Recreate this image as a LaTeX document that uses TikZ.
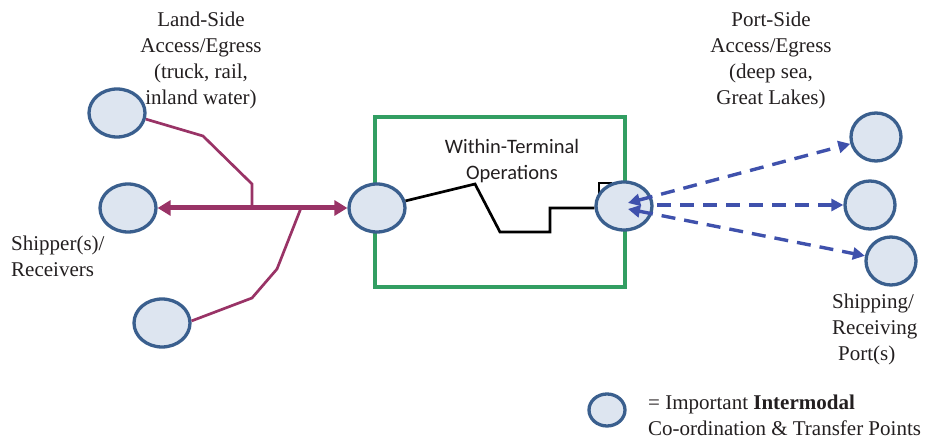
\documentclass[tikz,border=0pt]{standalone}
\usepackage{fontspec}
\setmainfont{Liberation Serif}
\newfontfamily\carlito{Carlito}
\usetikzlibrary{shapes.geometric,arrows.meta}

\definecolor{maroon}{RGB}{153,51,102}
\definecolor{boxgreen}{RGB}{50,158,98}
\definecolor{ptedge}{RGB}{58,95,142}
\definecolor{ptfill}{RGB}{221,229,240}
\definecolor{seablue}{RGB}{63,81,172}
\definecolor{txt}{RGB}{35,31,32}

\tikzset{
  point/.style={ellipse, draw=ptedge, fill=ptfill, line width=3.3pt,
    inner sep=0pt, minimum width=56pt, minimum height=48pt},
  lbl/.style={text=txt, inner sep=0pt, font=\fontsize{21}{26}\selectfont},
  landlink/.style={draw=maroon, line width=2.7pt},
  trunk/.style={draw=maroon, line width=5pt,
    {Triangle[length=13pt,width=15pt]}-{Triangle[length=13pt,width=15pt]}},
  yardpath/.style={draw=black, line width=2.7pt},
  sealink/.style={draw=seablue, line width=3.4pt, dash pattern=on 14pt off 9pt},
  seatip/.tip={Triangle[length=12pt,width=12pt]},
}

\begin{document}
\begin{tikzpicture}[x=1pt,y=-1pt]
\useasboundingbox (0,0) rectangle (930,438);

% terminal boundary
\node[draw=boxgreen, line width=3.4pt, minimum width=250pt, minimum height=170pt,
  inner sep=0pt] (term) at (500,202) {};
\node[text=txt, inner sep=0pt, align=center,
  font=\carlito\fontsize{20.5}{26}\selectfont] (termlbl) at (512,161)
  {Within-Terminal\\Operations};

% movement inside the terminal
\coordinate (y1) at (475,184);
\coordinate (y2) at (500,232);
\coordinate (y3) at (550,232);
\coordinate (y4) at (550,208);
\coordinate (h1) at (599,197);
\coordinate (h2) at (599,183);
\coordinate (h3) at (612,183);
\draw[yardpath] (h1) -- (h2) -- (h3);

% transfer points
\node[point] (lt) at (117,113) {};
\node[point] (lm) at (128,208) {};
\node[point] (lb) at (162,323) {};
\node[point] (tl) at (377,208) {};
\node[point] (tr) at (624,206) {};
\node[point, minimum width=50pt, minimum height=48pt] (rt) at (876,137) {};
\node[point, minimum width=50pt, minimum height=48pt] (rm) at (870,205) {};
\node[point, minimum width=50pt, minimum height=48pt] (rb) at (891,261) {};

\draw[yardpath] (tl.14) -- (y1) -- (y2) -- (y3) -- (y4) -- (tr.west |- y4);

% land-side links
\coordinate (a1) at (203,136);
\coordinate (a2) at (252,184);
\coordinate (a3) at (252,208);
\coordinate (b1) at (252,298);
\coordinate (b2) at (277,269);
\coordinate (b3) at (301,208);
\draw[landlink] (lt.-12) -- (a1) -- (a2) -- (a3);
\draw[landlink] (lb.4) -- (b1) -- (b2) -- (b3);
\draw[trunk] (lm) -- (tl);

% port-side links
\coordinate (s1) at (628,203);
\coordinate (s2) at (657,205);
\coordinate (s3) at (628,209);
\draw[sealink, seatip-seatip] (s1) -- (rt);
\draw[sealink, -seatip] (s2) -- (rm.west);
\draw[sealink, seatip-seatip] (s3) -- (rb);

% labels
\node[lbl, align=center] (landlbl) at (201,60)
  {Land-Side\\Access/Egress\\(truck, rail,\\inland water)};
\node[lbl, align=center] (portlbl) at (771,60)
  {Port-Side\\Access/Egress\\(deep sea,\\Great Lakes)};
\node[lbl, align=left, anchor=west] (shiplbl) at (11,256)
  {Shipper(s)/\\Receivers};
\node[lbl, align=left, anchor=west] (portslbl) at (832,329)
  {Shipping/\\Receiving\\\hspace*{6pt}Port(s)};

% legend
\node[point, minimum width=36pt, minimum height=32pt] (key) at (607,410) {};
\node[lbl, align=left, anchor=west] (keylbl) at (648,415)
  {= Important \textbf{Intermodal}\\Co-ordination \& Transfer Points};
\end{tikzpicture}
\end{document}
